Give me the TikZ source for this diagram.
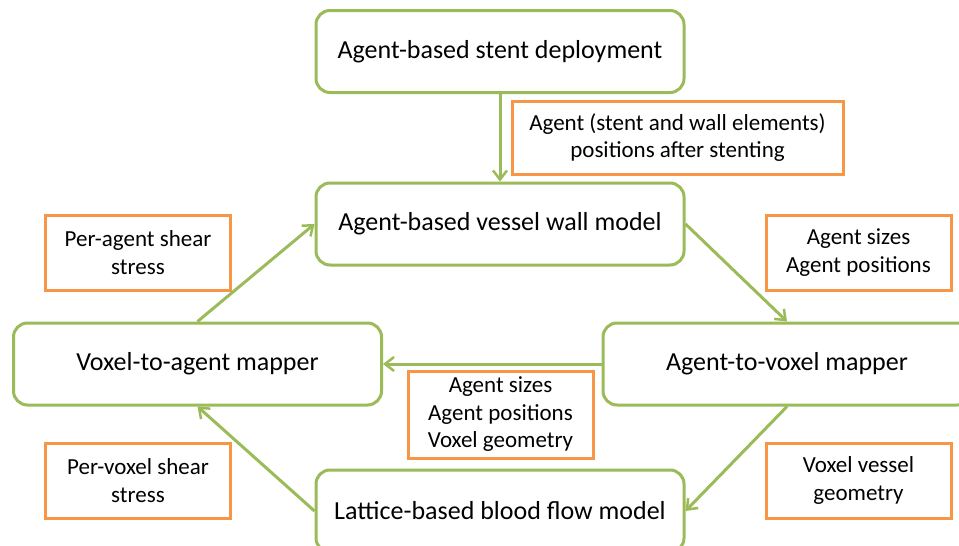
\documentclass[tikz,border=0pt]{standalone}
\usepackage{fontspec}
\setmainfont{Carlito}
\usetikzlibrary{arrows.meta}
\definecolor{boxgreen}{HTML}{9BBB59}
\definecolor{lblorange}{HTML}{F79646}
\tikzset{
 modelbox/.style={draw=boxgreen,line width=3pt,rounded corners=14pt,fill=white,
   minimum width=368pt,minimum height=82pt,align=center,font=\fontsize{26}{31}\selectfont},
 databox/.style={draw=lblorange,line width=3pt,fill=white,
   minimum width=185pt,minimum height=75pt,align=center,font=\fontsize{23}{27.5}\selectfont},
 flow/.style={draw=boxgreen,line width=3pt,-{Straight Barb[length=9pt,width=14pt,line width=2.5pt]}}
}
\begin{document}
\begin{tikzpicture}[x=1pt,y=-1pt]
 \useasboundingbox (0,0) rectangle (959,546);
 % model boxes
 \node[modelbox] (deploy) at (500,51.5) {Agent-based stent deployment};
 \node[modelbox] (wall) at (500,224) {Agent-based vessel wall model};
 \node[modelbox] (vtoa) at (197.5,364) {Voxel-to-agent mapper};
 \node[modelbox] (atov) at (787,364) {Agent-to-voxel mapper};
 \node[modelbox] (lbm) at (500,511) {Lattice-based blood flow model};
 % data passed between them
 \node[databox,minimum width=331pt,minimum height=73pt] (stentpos) at (677.5,137.5) {Agent (stent and wall elements)\\positions after stenting};
 \node[databox] (agshear) at (138,252.5) {Per-agent shear\\stress};
 \node[databox] (agsizes) at (858.5,252.5) {Agent sizes\\Agent positions};
 \node[databox,minimum height=87pt] (mapdata) at (500.5,414.5) {Agent sizes\\Agent positions\\Voxel geometry};
 \node[databox] (vxshear) at (138,480.5) {Per-voxel shear\\stress};
 \node[databox] (vxgeom) at (858.5,480.5) {Voxel vessel\\geometry};
 % coupling loop
 \draw[flow] (deploy.south) -- (wall.north);
 \draw[flow] (wall.east) -- (atov.north);
 \draw[flow] (atov.west) -- (vtoa.east);
 \draw[flow] (atov.south) -- (lbm.east);
 \draw[flow] (lbm.west) -- (vtoa.south);
 \draw[flow] (vtoa.north) -- (wall.west);
\end{tikzpicture}
\end{document}
